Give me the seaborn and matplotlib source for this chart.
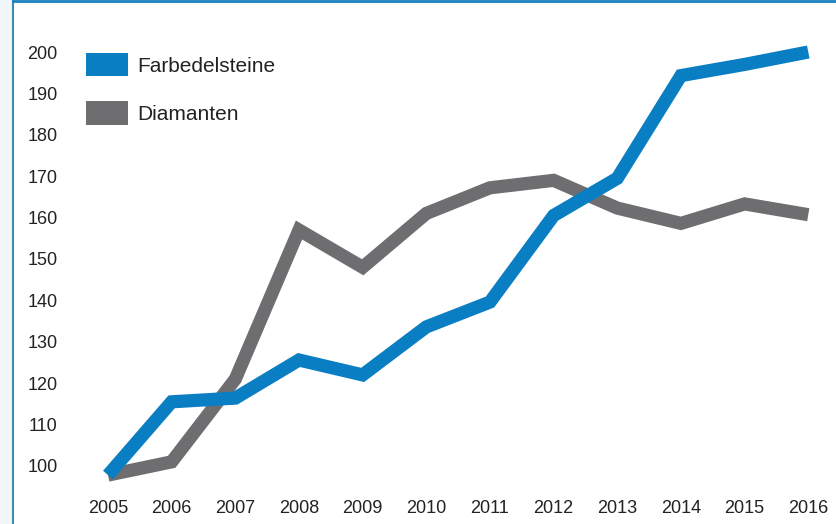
import pandas as pd
import matplotlib.pyplot as plt
import seaborn as sns
from matplotlib.patches import Patch, Rectangle
from matplotlib.lines import Line2D

# Daten
jahre = list(range(2005, 2017))
farbedelsteine = [97.8, 115.5, 116.4, 125.6, 122.0, 133.6, 139.6, 160.5, 169.5, 194.3, 197.0, 200.0]
diamanten = [97.8, 101.0, 121.0, 157.0, 148.0, 161.0, 167.2, 169.0, 162.3, 158.6, 163.3, 160.7]
serien = ['Farbedelsteine', 'Diamanten']
farben = ['#0a7ec2', '#6e6d6f']
y_ticks = [100, 110, 120, 130, 140, 150, 160, 170, 180, 190, 200]

df = pd.DataFrame({
    'Jahr': jahre * 2,
    'Wert': farbedelsteine + diamanten,
    'Serie': [serien[0]] * len(jahre) + [serien[1]] * len(jahre),
})

sns.set_theme(style='white')
plt.rcParams['font.family'] = ['Liberation Sans Narrow', 'DejaVu Sans Condensed', 'Liberation Sans', 'DejaVu Sans']

W, H = 837, 524
fig = plt.figure(figsize=(W / 100, H / 100), dpi=100)
ax = fig.add_axes([80 / W, 1 - 490 / H, (835 - 80) / W, (490 - 40) / H])

# Rahmen / Hintergrund
fig.patches.append(Rectangle((0, 0), 12.5 / W, 1, transform=fig.transFigure,
                             facecolor='#f2f6fa', edgecolor='none', zorder=0))
fig.lines.append(Line2D([13.5 / W, 13.5 / W], [0, 1], transform=fig.transFigure,
                        color='#3b8bb3', linewidth=1.5))
fig.lines.append(Line2D([13 / W, 1], [1 - 1 / H, 1 - 1 / H], transform=fig.transFigure,
                        color='#1a80c0', linewidth=2))

sns.lineplot(data=df, x='Jahr', y='Wert', hue='Serie', hue_order=serien[::-1],
             palette=dict(zip(serien, farben)), linewidth=9.5, ax=ax, legend=False)
for line in ax.lines:
    line.set_solid_capstyle('butt')
    line.set_solid_joinstyle('miter')

ax.set_xlim(2004.56, 2016.42)
ax.set_ylim(94.2, 202.9)
ax.set_xticks(jahre)
ax.set_xticklabels([str(j) for j in jahre])
ax.set_yticks(y_ticks)
ax.set_xlabel('')
ax.set_ylabel('')
ax.tick_params(axis='both', length=0, labelsize=13, colors='#222222')
ax.tick_params(axis='y', pad=16)
ax.tick_params(axis='x', pad=7)
for s in ax.spines.values():
    s.set_visible(False)

handles = [Patch(facecolor=c, edgecolor='none') for c in farben]
fig.legend(handles, serien, loc='upper left', bbox_to_anchor=(86 / W, 1 - 53 / H),
           frameon=False, fontsize=15, handlelength=2.0, handleheight=1.35,
           handletextpad=0.45, labelspacing=1.2, borderpad=0, borderaxespad=0,
           labelcolor='#222222')

fig.savefig('out.png', dpi=100, facecolor='white')
